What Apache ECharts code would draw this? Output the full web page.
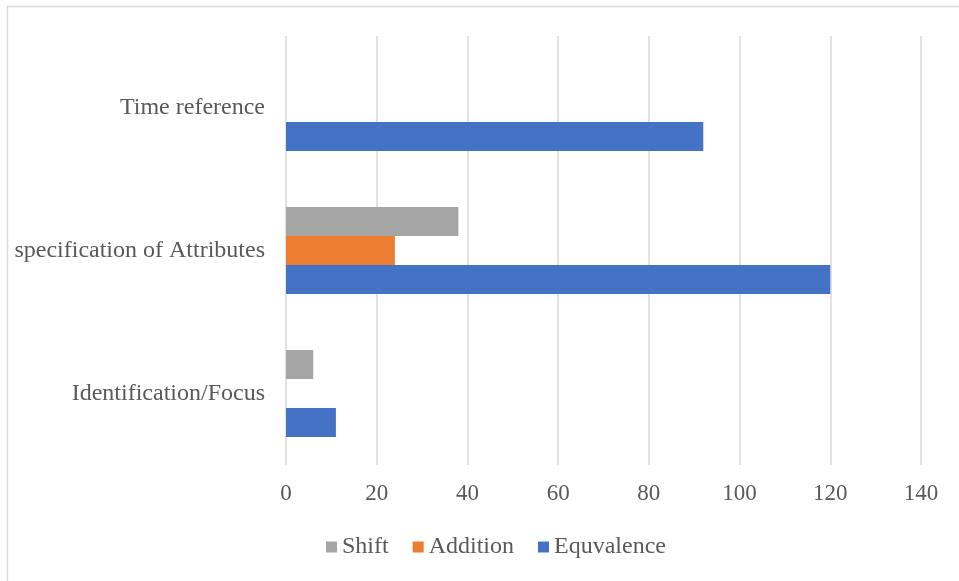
<!DOCTYPE html>
<html>
<head>
<meta charset="utf-8">
<script src="https://cdn.jsdelivr.net/npm/echarts@6/dist/echarts.min.js"></script>
<style>
  html, body { margin: 0; padding: 0; background: #ffffff; }
  #chart { width: 959px; height: 581px; }
</style>
</head>
<body>
<div id="chart"></div>
<script>
// Categories, bottom to top on the vertical axis
const categories = ['Identification/Focus', 'specification of Attributes', 'Time reference'];

// Series values per category
const shiftValues = [6, 38, 0];
const additionValues = [0, 24, 0];
const equvalenceValues = [11, 120, 92];

// Value axis ticks
const valueTicks = [0, 20, 40, 60, 80, 100, 120, 140];

const FONT = '"Liberation Serif", "Times New Roman", serif';
const TEXT_COLOR = '#595959';

const chart = echarts.init(document.getElementById('chart'), null, { renderer: 'canvas' });

chart.setOption({
  animation: false,
  backgroundColor: '#ffffff',
  graphic: [{
    type: 'rect',
    shape: { x: 7.5, y: 6.5, width: 960, height: 590 },
    style: { fill: 'none', stroke: '#d9d9d9', lineWidth: 1.5 },
    silent: true
  }],
  grid: { left: 286, right: 38, top: 36, bottom: 116, containLabel: false },
  legend: {
    left: 321,
    top: 530,
    itemWidth: 11,
    itemHeight: 11,
    itemGap: 24,
    icon: 'rect',
    textStyle: { fontFamily: FONT, fontSize: 24, color: TEXT_COLOR, padding: [0, 0, 0, 0] },
    data: ['Shift', 'Addition', 'Equvalence']
  },
  xAxis: {
    type: 'value',
    min: valueTicks[0],
    max: valueTicks[valueTicks.length - 1],
    interval: valueTicks[1] - valueTicks[0],
    axisLine: { show: false },
    axisTick: { show: false },
    splitLine: { show: true, lineStyle: { color: '#d9d9d9', width: 1.5 } },
    axisLabel: { fontFamily: FONT, fontSize: 23, color: TEXT_COLOR, margin: 17 }
  },
  yAxis: {
    type: 'category',
    data: categories,
    axisLine: { show: false },
    axisTick: { show: false },
    splitLine: { show: false },
    axisLabel: { fontFamily: FONT, fontSize: 24, color: TEXT_COLOR, margin: 21 }
  },
  series: [
    {
      name: 'Shift', type: 'bar', data: shiftValues,
      itemStyle: { color: '#a5a5a5' },
      barWidth: 29, barGap: '0%', barCategoryGap: '39%'
    },
    {
      name: 'Addition', type: 'bar', data: additionValues,
      itemStyle: { color: '#ed7d31' },
      barWidth: 29, barGap: '0%', barCategoryGap: '39%'
    },
    {
      name: 'Equvalence', type: 'bar', data: equvalenceValues,
      itemStyle: { color: '#4472c4' },
      barWidth: 29, barGap: '0%', barCategoryGap: '39%'
    }
  ]
});
</script>
</body>
</html>
